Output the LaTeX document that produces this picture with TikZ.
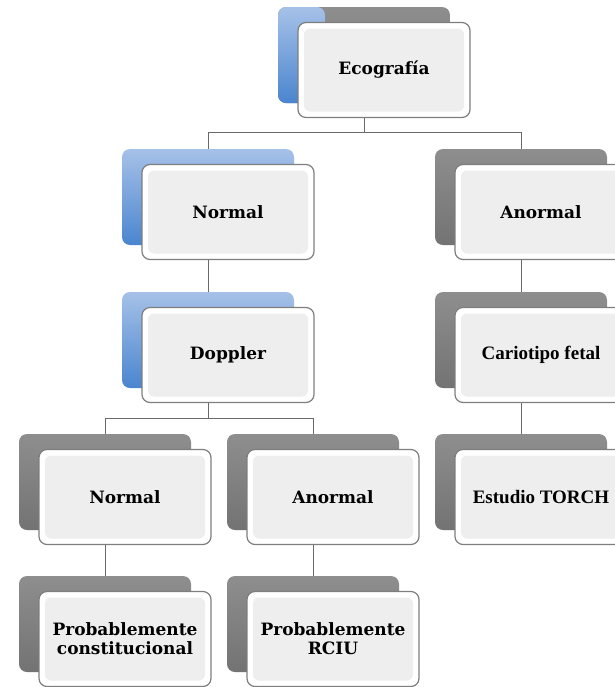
\documentclass[tikz,border=0pt]{standalone}
\usepackage{fontspec}
\setmainfont{DejaVu Serif}
\newfontfamily\narrowserif{Liberation Serif}
\usetikzlibrary{calc}
\definecolor{bTop}{HTML}{A6C1E8}
\definecolor{bBot}{HTML}{4A85CF}
\definecolor{gTop}{HTML}{8E8E8E}
\definecolor{gBot}{HTML}{737373}
\definecolor{fEdge}{HTML}{7E7E7E}
\definecolor{fIn}{HTML}{EEEEEE}
\definecolor{cLine}{HTML}{6A6A6A}
\tikzset{
  back/.style   = {rounded corners=4pt, minimum width=86pt, minimum height=48pt,
                   inner sep=0pt},
  backb/.style  = {back, top color=bTop, bottom color=bBot},
  backg/.style  = {back, top color=gTop, bottom color=gBot},
  backeco/.style= {backg, path picture={\shade[top color=bTop, bottom color=bBot]
                   (path picture bounding box.south west) rectangle
                   ([xshift=23.5pt]path picture bounding box.north west);}},
  front/.style  = {draw=fEdge, fill=white, line width=0.6pt, rounded corners=4pt,
                   minimum width=86pt, minimum height=47.5pt, inner sep=2pt,
                   align=center, font=\bfseries\fontsize{8.5}{9.5}\selectfont,
                   path picture={\fill[fIn, rounded corners=3pt]
                   ([shift={(3pt,3pt)}]path picture bounding box.south west) rectangle
                   ([shift={(-3pt,-3pt)}]path picture bounding box.north east);}},
  frontn/.style = {front, font=\narrowserif\bfseries\fontsize{9.5}{11}\selectfont},
  conn/.style   = {draw=cLine, line width=0.5pt},
}
\begin{document}
\begin{tikzpicture}[x=0.5pt, y=-0.5pt]
  \useasboundingbox (0,0) rectangle (615,687);
  % shadows behind the boxes
  \node[backeco] (ecoB) at (364,55)  {};
  \node[backb]   (n1B)  at (208,197) {};
  \node[backg]   (a1B)  at (521,197) {};
  \node[backb]   (dopB) at (208,340) {};
  \node[backg]   (carB) at (521,340) {};
  \node[backg]   (n2B)  at (105,482) {};
  \node[backg]   (a2B)  at (313,482) {};
  \node[backg]   (torB) at (521,482) {};
  \node[backg]   (pcB)  at (105,624) {};
  \node[backg]   (prB)  at (313,624) {};
  % boxes
  \node[front]  (eco) at ([shift={(20,15)}]ecoB) {Ecografía};
  \node[front]  (n1)  at ([shift={(20,15)}]n1B)  {Normal};
  \node[front]  (a1)  at ([shift={(20,15)}]a1B)  {Anormal};
  \node[front]  (dop) at ([shift={(20,15)}]dopB) {Doppler};
  \node[frontn] (car) at ([shift={(20,15)}]carB) {Cariotipo fetal};
  \node[front]  (n2)  at ([shift={(20,15)}]n2B)  {Normal};
  \node[front]  (a2)  at ([shift={(20,15)}]a2B)  {Anormal};
  \node[frontn] (tor) at ([shift={(20,15)}]torB) {Estudio TORCH};
  \node[front]  (pc)  at ([shift={(20,15)}]pcB)  {Probablemente\\constitucional};
  \node[front]  (pr)  at ([shift={(20,15)}]prB)  {Probablemente\\RCIU};
  % connectors
  \draw[conn] (eco.south -| ecoB) -- ++(0,14.5) -| (n1B.north);
  \draw[conn] (eco.south -| ecoB) -- ++(0,14.5) -| (a1B.north);
  \draw[conn] (n1.south -| n1B) -- (dopB.north);
  \draw[conn] (a1.south -| a1B) -- (carB.north);
  \draw[conn] (car.south -| carB) -- (torB.north);
  \draw[conn] (dop.south -| dopB) -- ++(0,15) -| (n2B.north);
  \draw[conn] (dop.south -| dopB) -- ++(0,15) -| (a2B.north);
  \draw[conn] (n2.south -| n2B) -- (pcB.north);
  \draw[conn] (a2.south -| a2B) -- (prB.north);
\end{tikzpicture}
\end{document}
